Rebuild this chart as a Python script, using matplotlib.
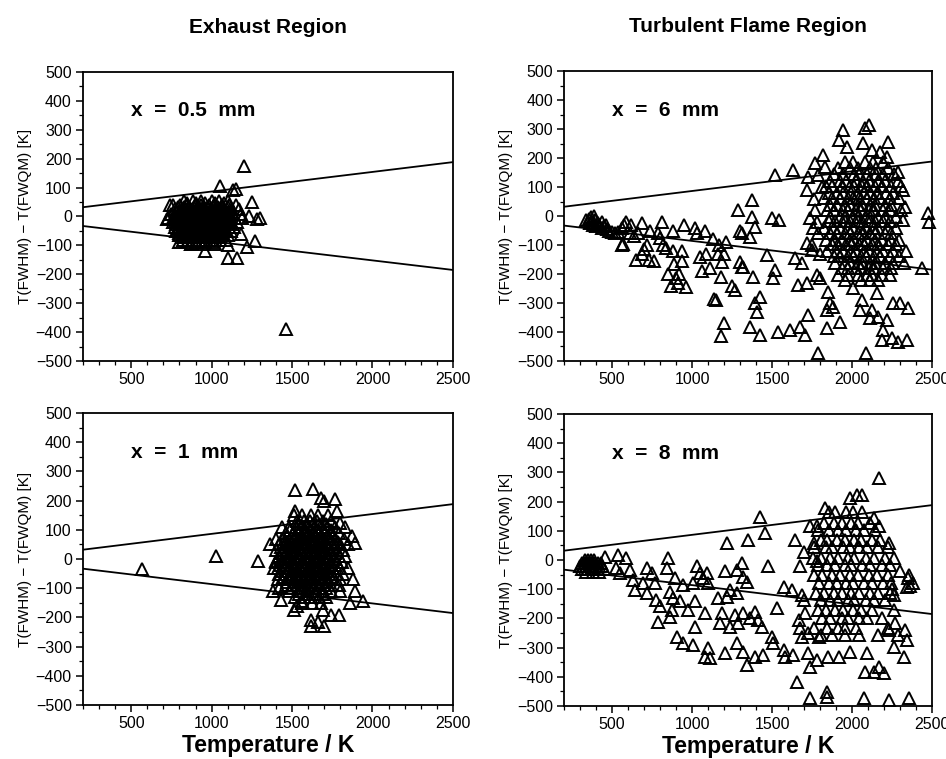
import numpy as np
import matplotlib
matplotlib.use('Agg')
import matplotlib.pyplot as plt
from matplotlib.ticker import MultipleLocator

plt.rcParams['font.family'] = ['Liberation Sans', 'DejaVu Sans']

# limit lines (same in all four panels)
line_T = [200, 2500]
upper_line = [32, 188]
lower_line = [-33, -185]

# ---- x = 0.5 mm (exhaust) : dense core given row by row (d, [T...]) ----
core_05 = [
    (55, [830, 885, 935, 1005, 1045, 1100]),
    (47, [850, 900, 960, 1020, 1080]),
    (40, [760, 805, 845, 905, 935, 985, 1015, 1065, 1105, 1150]),
    (32, [790, 830, 860, 890, 920, 950, 980, 1010, 1040, 1070, 1100]),
    (25, [770, 815, 840, 875, 900, 935, 960, 995, 1020, 1055, 1080, 1125, 1170]),
    (17, [780, 805, 835, 865, 895, 925, 955, 985, 1015, 1045, 1075, 1110]),
    (10, [750, 790, 825, 850, 885, 910, 945, 970, 1005, 1030, 1065, 1090, 1135, 1180]),
    (2, [765, 810, 840, 865, 895, 925, 955, 985, 1015, 1045, 1075, 1115]),
    (-5, [730, 775, 800, 835, 860, 895, 920, 955, 980, 1015, 1040, 1075, 1100, 1145, 1190]),
    (-12, [780, 810, 840, 870, 900, 930, 960, 990, 1020, 1050, 1080, 1110]),
    (-20, [760, 795, 820, 855, 880, 915, 940, 975, 1000, 1035, 1060, 1095, 1120, 1160]),
    (-27, [780, 810, 840, 870, 900, 930, 960, 990, 1020, 1050, 1080, 1120]),
    (-35, [770, 805, 830, 865, 890, 925, 950, 985, 1010, 1045, 1070, 1105, 1140]),
    (-42, [790, 820, 850, 880, 910, 940, 970, 1000, 1030, 1060, 1090]),
    (-50, [780, 815, 840, 875, 900, 935, 960, 995, 1020, 1055, 1080, 1120]),
    (-57, [800, 830, 860, 890, 920, 950, 980, 1010, 1040, 1070]),
    (-65, [800, 845, 870, 905, 930, 965, 990, 1025, 1060, 1100]),
    (-72, [820, 850, 885, 915, 945, 980, 1010, 1040]),
    (-80, [820, 875, 920, 965, 1000, 1055, 1090]),
    (-87, [850, 900, 960, 1010]),
    (-95, [870, 945, 1020]),
]
extra_05 = [(1200, 175), (1460, -390), (1100, -145), (1160, -145), (960, -120),
            (1270, -85), (1220, -105), (1250, 50), (1300, -5), (1280, -10),
            (1050, 105), (1150, 95), (1130, 90), (740, 40), (720, -10),
            (800, -90), (870, -95), (1100, -100), (1180, -60), (1230, 0)]

# ---- x = 1 mm (exhaust) ----
core_1 = [
    (150, [1560, 1615, 1660, 1725]),
    (130, [1530, 1575, 1610, 1655, 1690, 1745]),
    (120, [1545, 1590, 1630, 1670, 1710]),
    (110, [1480, 1525, 1560, 1605, 1640, 1685, 1720, 1765]),
    (100, [1490, 1540, 1580, 1620, 1660, 1700, 1740]),
    (90, [1460, 1505, 1540, 1575, 1600, 1635, 1660, 1705, 1740, 1795]),
    (80, [1470, 1520, 1555, 1590, 1620, 1650, 1680, 1715, 1755]),
    (70, [1440, 1485, 1510, 1545, 1570, 1605, 1630, 1665, 1690, 1735, 1770, 1825]),
    (60, [1465, 1495, 1525, 1555, 1585, 1615, 1645, 1675, 1705, 1740, 1785]),
    (50, [1420, 1455, 1480, 1515, 1540, 1575, 1600, 1635, 1660, 1695, 1720, 1765, 1800, 1850]),
    (40, [1430, 1460, 1490, 1520, 1550, 1580, 1610, 1640, 1670, 1700, 1730, 1760]),
    (30, [1400, 1445, 1470, 1505, 1530, 1565, 1590, 1625, 1650, 1685, 1710, 1745, 1780, 1820]),
    (20, [1440, 1465, 1495, 1525, 1555, 1585, 1615, 1645, 1675, 1705, 1735, 1770]),
    (10, [1420, 1455, 1480, 1515, 1540, 1575, 1600, 1635, 1660, 1695, 1720, 1755, 1790, 1830]),
    (0, [1430, 1460, 1490, 1520, 1550, 1580, 1610, 1640, 1670, 1700, 1730, 1765]),
    (-10, [1400, 1445, 1470, 1505, 1530, 1565, 1590, 1625, 1650, 1685, 1710, 1745, 1780, 1810]),
    (-20, [1425, 1460, 1490, 1520, 1550, 1580, 1610, 1640, 1670, 1700, 1735, 1770]),
    (-30, [1410, 1455, 1480, 1515, 1540, 1575, 1600, 1635, 1660, 1695, 1720, 1755, 1800, 1850]),
    (-40, [1435, 1470, 1500, 1530, 1560, 1590, 1620, 1650, 1680, 1710, 1745]),
    (-50, [1420, 1465, 1490, 1525, 1550, 1585, 1610, 1645, 1670, 1705, 1730, 1775, 1820]),
    (-60, [1450, 1480, 1525, 1555, 1585, 1615, 1645, 1675, 1710, 1745]),
    (-70, [1440, 1485, 1510, 1545, 1570, 1605, 1630, 1665, 1690, 1725, 1760, 1800]),
    (-80, [1470, 1520, 1555, 1585, 1615, 1645, 1680, 1720]),
    (-90, [1460, 1505, 1540, 1575, 1600, 1635, 1660, 1705, 1740, 1790]),
    (-100, [1500, 1550, 1590, 1630, 1670, 1710]),
    (-110, [1480, 1535, 1570, 1615, 1650, 1695, 1740, 1800]),
    (-120, [1545, 1595, 1640, 1690]),
    (-130, [1520, 1575, 1620, 1665, 1710]),
    (-150, [1560, 1625, 1680]),
]
extra_1 = [(570, -35), (1030, 10), (1290, -5), (1520, 235), (1630, 240), (1770, 205),
           (1700, 200), (1680, 210), (1520, 165), (1510, 150), (1780, 165), (1800, 125),
           (1830, 110), (1870, 80), (1890, 55), (1880, -70), (1890, -110), (1940, -145),
           (1860, -150), (1790, -190), (1740, -190), (1690, -175), (1660, -215),
           (1700, -230), (1620, -210), (1620, -230), (1510, -175), (1530, -160),
           (1560, -145), (1430, -140), (1380, -110), (1360, 50), (1400, 70), (1440, 110),
           (1400, -5), (1390, -30), (1410, -70), (1420, -100)]

# ---- x = 6 mm (turbulent flame) ----
core_6 = [
    (185, [1955, 2005, 2080, 2130, 2195]),
    (165, [1915, 1990, 2035, 2110, 2150, 2225]),
    (145, [1885, 1945, 2010, 2045, 2095, 2150, 2195, 2265]),
    (122, [1865, 1925, 1965, 2025, 2070, 2105, 2160, 2205, 2285]),
    (103, [1835, 1875, 1935, 1985, 2015, 2065, 2095, 2145, 2185, 2245, 2305]),
    (78, [1855, 1905, 1945, 1995, 2035, 2075, 2115, 2155, 2215, 2255]),
    (62, [1825, 1875, 1925, 1975, 2005, 2045, 2095, 2135, 2175, 2235, 2295]),
    (38, [1865, 1905, 1955, 1985, 2035, 2065, 2115, 2145, 2205, 2245]),
    (22, [1845, 1885, 1945, 1975, 2025, 2055, 2105, 2135, 2195, 2235, 2305]),
    (-3, [1865, 1925, 1955, 2005, 2035, 2085, 2115, 2165, 2205, 2275]),
    (-18, [1855, 1895, 1955, 1985, 2035, 2065, 2115, 2145, 2195, 2235]),
    (-42, [1825, 1885, 1925, 1975, 2005, 2055, 2085, 2135, 2165, 2225, 2275]),
    (-58, [1865, 1905, 1955, 1985, 2035, 2065, 2115, 2145, 2205, 2245]),
    (-83, [1835, 1895, 1935, 1985, 2015, 2065, 2095, 2145, 2185, 2245, 2295]),
    (-98, [1875, 1915, 1965, 1995, 2045, 2075, 2125, 2165, 2225, 2275]),
    (-122, [1845, 1905, 1945, 1995, 2025, 2075, 2105, 2155, 2195, 2255, 2335]),
    (-138, [1885, 1925, 1975, 2005, 2055, 2085, 2135, 2175, 2235, 2295]),
    (-162, [1895, 1955, 1985, 2035, 2065, 2115, 2145, 2205, 2255, 2325]),
    (-178, [1935, 1975, 2025, 2055, 2105, 2135, 2195, 2245]),
    (-203, [1915, 1975, 2035, 2095, 2125, 2185, 2235]),
    (-222, [1955, 2055, 2115, 2165]),
]
extra_6 = [
    (340, -15), (355, -10), (370, -5), (385, 0), (375, -20), (360, -25), (395, -15),
    (410, -25), (420, -30), (435, -20), (450, -35), (465, -30), (400, -35), (380, -30),
    (440, -40), (480, -50), (500, -55), (470, -45), (520, -60), (540, -55), (560, -40),
    (575, -30), (590, -20), (620, -30), (610, -60), (570, -95), (560, -100), (640, -70),
    (660, -60), (690, -25), (720, -100), (650, -150), (690, -130), (700, -115),
    (730, -150), (740, -50), (760, -155), (790, -60), (800, -75), (810, -20), (820, -100),
    (840, -110), (850, -200), (870, -240), (880, -120), (880, -50), (890, -165),
    (900, -215), (910, -230), (920, -200), (940, -155), (950, -30), (960, -245),
    (940, -120), (1020, -40), (1030, -60), (1050, -140), (1060, -190), (1080, -50),
    (1090, -130), (1110, -180), (1130, -80), (1140, -285), (1150, -290), (1160, -130),
    (1170, -100), (1180, -210), (1190, -160), (1200, -130), (1210, -90), (1200, -370),
    (1180, -415), (1250, -240), (1270, -255), (1290, 20), (1300, -50), (1300, -160),
    (1310, -60), (1320, -175), (1375, 55), (1375, -3), (1394, -38), (1363, -72),
    (1500, -7), (1544, -14), (1469, -134), (1381, -210), (1313, -176), (1519, -186),
    (1506, -214), (1644, -145), (1688, -162), (1738, -7), (1756, -41), (1719, -93),
    (1750, -117), (1781, -203), (1800, -214), (1663, -238), (1719, -231), (1425, -279),
    (1394, -300), (1406, -331), (1363, -383), (1425, -410), (1538, -400), (1613, -393),
    (1675, -383), (1706, -410), (1725, -341), (1844, -386), (1925, -366), (1788, -472),
    (2088, -472), (1850, -262), (1863, -300), (1844, -324), (1881, -314), (2063, -290),
    (2050, -324), (2125, -324), (2113, -352), (2163, -348), (2219, -359), (2256, -300),
    (2300, -300), (2350, -317), (2194, -393), (2188, -428), (2250, -421), (2288, -434),
    (2344, -428), (2156, -266), (2006, -248), (1519, 141), (1629, 159), (1819, 210),
    (1769, 183), (1725, 135), (1719, 90), (1944, 296), (2081, 303), (2106, 314),
    (1919, 262), (1969, 238), (2069, 252), (2125, 228), (2175, 221), (2225, 255),
    (2219, 203), (2288, 152), (2319, 90), (2331, 31), (2319, -14), (2438, -179),
    (2475, 10), (2481, -21), (1760, 60), (1770, 20), (1780, -20), (1790, -60),
    (1750, -100), (1800, -130), (1810, 100), (1790, 140), (1830, 170),
]

# ---- x = 8 mm (turbulent flame) ----
core_8 = [
    (0, [330, 350, 370, 390]),
    (-10, [310, 330, 350, 370, 390, 410, 430]),
    (-20, [300, 320, 340, 360, 380, 400, 420, 440]),
    (-30, [310, 330, 350, 370, 390, 410, 450]),
    (-40, [340, 380, 420]),
    (165, [1855, 1895, 1965, 2005, 2065]),
    (128, [1825, 1885, 1935, 1995, 2035, 2115]),
    (103, [1785, 1855, 1915, 1965, 2025, 2075, 2145]),
    (68, [1805, 1845, 1905, 1955, 2015, 2055, 2125, 2175]),
    (43, [1765, 1835, 1875, 1945, 1985, 2045, 2095, 2165, 2225]),
    (8, [1755, 1805, 1865, 1915, 1975, 2015, 2085, 2135, 2205]),
    (-17, [1785, 1845, 1895, 1955, 1995, 2065, 2115, 2185, 2235]),
    (-52, [1765, 1815, 1875, 1925, 1985, 2035, 2105, 2155, 2225]),
    (-77, [1795, 1855, 1905, 1965, 2005, 2075, 2125, 2195, 2245]),
    (-112, [1775, 1825, 1885, 1935, 1995, 2045, 2115, 2165, 2235]),
    (-137, [1805, 1865, 1915, 1975, 2015, 2085, 2135, 2205]),
    (-172, [1785, 1835, 1895, 1945, 2005, 2055, 2125]),
    (-197, [1815, 1865, 1935, 1975, 2045, 2095, 2185]),
    (-232, [1765, 1845, 1915, 1955, 2025, 2225]),
    (-257, [1805, 1875, 1955, 2045, 2165, 2285]),
]
extra_8 = [
    (455, 12), (538, 18), (590, 6), (528, -28), (549, -45), (611, -34), (632, -68),
    (643, -102), (695, -79), (716, -28), (747, -45), (768, -79), (716, -114), (778, -137),
    (799, -159), (851, 6), (841, -28), (893, -62), (862, -108), (883, -131), (789, -211),
    (862, -194), (872, -171), (924, -142), (945, -85), (904, -262), (945, -285),
    (1008, -291), (977, -171), (1008, -79), (1029, -22), (1050, -45), (1018, -142),
    (1018, -228), (1081, -182), (1091, -45), (1102, -79), (1071, -62), (1102, -302),
    (1112, -337), (1081, -331), (1164, -131), (1185, -182), (1175, -217), (1206, -39),
    (1217, 58), (1238, -102), (1217, -125), (1206, -319), (1238, -228), (1269, -188),
    (1279, -114), (1279, -34), (1311, -11), (1321, -57), (1342, -74), (1290, -217),
    (1321, -182), (1279, -285), (1321, -314), (1342, -359), (1352, 69), (1363, -199),
    (1394, -177), (1425, 149), (1457, 92), (1415, -205), (1436, -228), (1394, -331),
    (1446, -325), (1478, -22), (1499, -262), (1509, -285), (1530, -165), (1572, -91),
    (1572, -308), (1582, -331), (1624, -102), (1634, -325), (1645, 69), (1655, -417),
    (1676, -22), (1697, 29), (1686, -119), (1697, -137), (1666, -205), (1676, -234),
    (1686, -262), (1707, -182), (1728, -251), (1728, -319), (1739, -365), (1739, -474),
    (1739, 115), (1780, 115), (1760, 58), (1780, -5), (1780, -342), (1791, -262),
    (1853, -331), (1843, -451), (1843, -468), (1916, -331), (1989, -314), (2073, -474),
    (2083, -382), (2094, -319), (2135, -382), (2167, -365), (2198, -388), (2229, -479),
    (2354, -474), (2323, -331), (2344, -274), (2333, -240), (2261, -297), (2229, -240),
    (2167, 281), (2031, 223), (2062, 223), (1989, 212), (1833, 178), (2135, 143),
    (2167, 115), (2229, 58), (2261, 6), (2302, -39), (2354, -51), (2344, -91),
    (2261, -171), (2271, -217), (2350, -60), (2360, -90), (2380, -80), (2260, -120),
    (2250, -100),
]

panels = [
    ('x  =  0.5  mm', core_05, extra_05),
    ('x  =  6  mm', core_6, extra_6),
    ('x  =  1  mm', core_1, extra_1),
    ('x  =  8  mm', core_8, extra_8),
]
col_titles = ['Exhaust Region', 'Turbulent Flame Region']


def flatten(core, extra):
    T = [t for d, row in core for t in row] + [p[0] for p in extra]
    D = [d for d, row in core for t in row] + [p[1] for p in extra]
    return np.array(T), np.array(D)


fig = plt.figure(figsize=(9.46, 7.59), dpi=100)
positions = [
    [0.0877, 0.5244, 0.391, 0.3808],
    [0.5962, 0.5244, 0.389, 0.3820],
    [0.0877, 0.0711, 0.391, 0.3847],
    [0.5962, 0.0698, 0.389, 0.3847],
]

for i, (label, core, extra) in enumerate(panels):
    ax = fig.add_axes(positions[i])
    T, D = flatten(core, extra)
    ax.plot(line_T, upper_line, color='k', lw=1.3, zorder=1)
    ax.plot(line_T, lower_line, color='k', lw=1.3, zorder=1)
    ax.plot(T, D, ls='none', marker='^', ms=8, mfc='none', mec='k', mew=1.4,
            zorder=2, clip_on=False)

    ax.set_xlim(200, 2500)
    ax.set_ylim(-500, 500)
    ax.xaxis.set_major_locator(MultipleLocator(500))
    ax.xaxis.set_minor_locator(MultipleLocator(100))
    ax.yaxis.set_major_locator(MultipleLocator(100))
    ax.yaxis.set_minor_locator(MultipleLocator(50))
    ax.tick_params(which='major', direction='out', length=5, width=1.1,
                   labelsize=11.5, pad=3)
    ax.tick_params(which='minor', direction='out', length=3, width=0.9)
    for side in ax.spines.values():
        side.set_linewidth(1.3)
    ax.set_ylabel('T(FWHM) \u2212 T(FWQM) [K]', fontsize=11, labelpad=3)

    ax.text(0.13, 0.865, label, transform=ax.transAxes, fontsize=15,
            fontweight='bold', va='center', ha='left')

    if i < 2:
        ax.set_title(col_titles[i], fontsize=15, fontweight='bold', pad=28)
    else:
        ax.set_xlabel('Temperature / K', fontsize=16.5, fontweight='bold', labelpad=2)

fig.savefig('out.png', dpi=100)
